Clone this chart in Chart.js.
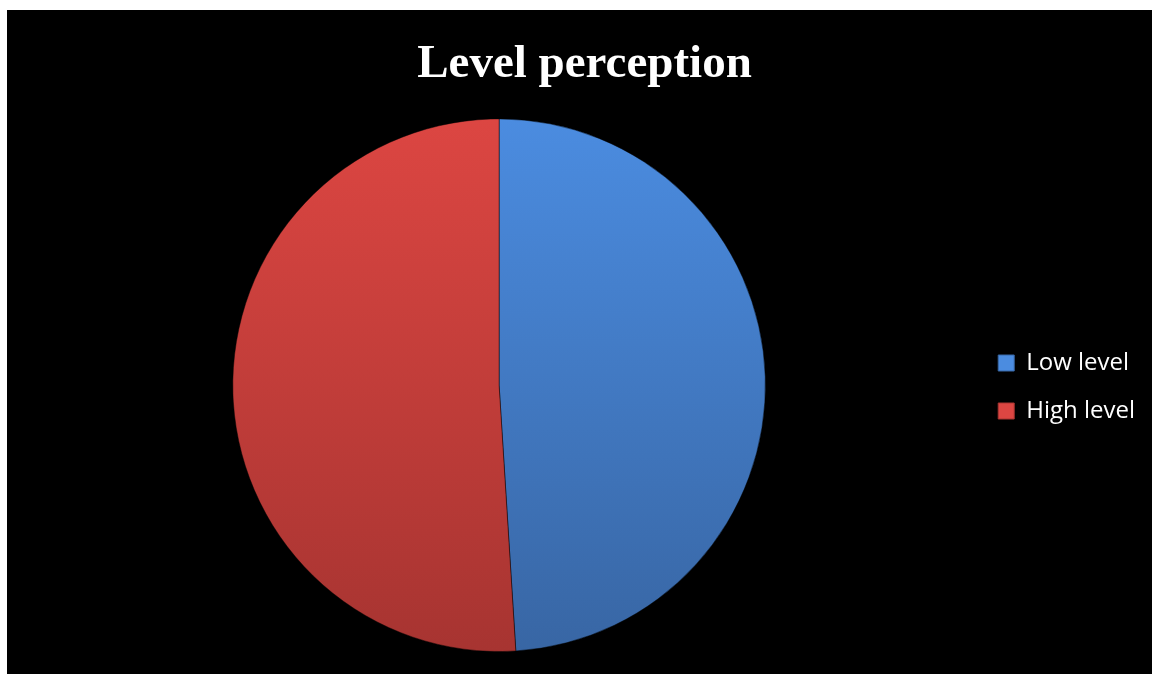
<!DOCTYPE html>
<html>
<head>
<meta charset="utf-8">
<script src="https://cdn.jsdelivr.net/npm/chart.js@4.4.0/dist/chart.umd.min.js"></script>
<style>
    html, body { margin: 0; padding: 0; background: #ffffff; }
    #wrap { position: absolute; left: 7px; top: 10px; width: 1145px; height: 664px; background: #000000; }
</style>
</head>
<body>
<div id="wrap"><canvas id="chart"></canvas></div>
<script>
// Chart data
const categories = ['Low level', 'High level'];
const values = [49, 51];

// Gradient stops for each slice (top colour, bottom colour)
const topColors = ['#4b8ce0', '#dc4642'];
const bottomColors = ['#3866a4', '#a73431'];

// Helper to build a vertical gradient across the pie
function sliceFill(context) {
    const chart = context.chart;
    const i = context.dataIndex !== undefined ? context.dataIndex : context.index;
    const area = chart.chartArea;
    if (!area) {
        return topColors[i];
    }
    const g = chart.ctx.createLinearGradient(0, area.top, 0, area.bottom);
    g.addColorStop(0, topColors[i]);
    g.addColorStop(1, bottomColors[i]);
    return g;
}

const ctx = document.getElementById('chart');

new Chart(ctx, {
    type: 'pie',
    data: {
        labels: categories,
        datasets: [
            {
                data: values,
                backgroundColor: sliceFill,
                borderColor: 'rgba(0, 0, 0, 0.45)',
                borderWidth: 1,
            },
        ],
    },
    options: {
        responsive: true,
        maintainAspectRatio: false,
        animation: false,
        layout: {
            padding: { left: 17, right: 7, top: 0, bottom: 22 },
        },
        plugins: {
            title: {
                display: true,
                text: 'Level perception',
                color: '#ffffff',
                font: { family: '"Liberation Serif", "Times New Roman", serif', size: 47, weight: 'bold' },
                padding: { top: 27, bottom: 25 },
            },
            legend: {
                position: 'right',
                // empty legend title, used only to push the items down
                title: {
                    display: true,
                    text: ' ',
                    font: { size: 10 },
                    padding: { top: 50, bottom: 50 },
                },
                labels: {
                    color: '#ffffff',
                    font: { family: '"Open Sans", sans-serif', size: 24 },
                    boxWidth: 16,
                    boxHeight: 16,
                    padding: 24,
                    generateLabels: (chart) => categories.map((label, i) => ({
                        text: label,
                        fillStyle: topColors[i],
                        strokeStyle: bottomColors[i],
                        lineWidth: 1,
                        fontColor: '#ffffff',
                        index: i,
                    })),
                },
            },
            tooltip: { enabled: false },
        },
    },
});
</script>
</body>
</html>
